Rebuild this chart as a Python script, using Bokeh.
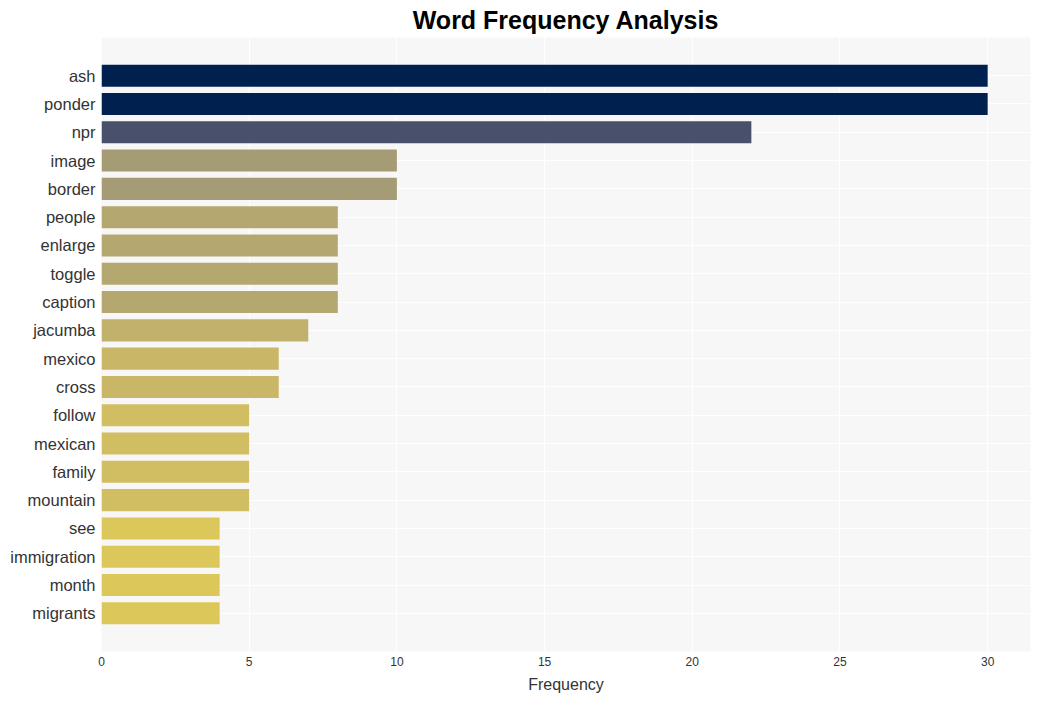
from bokeh.plotting import figure
from bokeh.models import FactorRange, Range1d, SingleIntervalTicker, ColumnDataSource
from bokeh.embed import file_html
from bokeh.resources import INLINE

words = ["ash", "ponder", "npr", "image", "border", "people", "enlarge", "toggle",
         "caption", "jacumba", "mexico", "cross", "follow", "mexican", "family",
         "mountain", "see", "immigration", "month", "migrants"]
counts = [30, 30, 22, 10, 10, 8, 8, 8, 8, 7, 6, 6, 5, 5, 5, 5, 4, 4, 4, 4]
colors = ["#00214f", "#00214f", "#49506b", "#a59b74", "#a59b74", "#b4a870", "#b4a870",
          "#b4a870", "#b4a870", "#c2b16c", "#c9b767", "#c9b767", "#d2be62", "#d2be62",
          "#d2be62", "#d2be62", "#dcc85a", "#dcc85a", "#dcc85a", "#dcc85a"]

source = ColumnDataSource(dict(word=words, count=counts, color=colors))

p = figure(
    width=1033, height=695,
    y_range=FactorRange(factors=list(reversed(words)), range_padding=0.85,
                        range_padding_units="absolute"),
    x_range=Range1d(0, 31.45),
    output_backend="svg", toolbar_location=None,
    title="Word Frequency Analysis",
    min_border_left=101, min_border_right=3, min_border_top=30, min_border_bottom=43,
)

p.hbar(y="word", right="count", left=0, height=0.78, fill_color="color",
       line_color=None, source=source)

p.title.align = "center"
p.title.text_font = "Liberation Sans"
p.title.text_font_size = "25px"
p.title.text_font_style = "bold"
p.title.text_color = "#000000"
p.title.standoff = 7

p.background_fill_color = "#f7f7f7"
p.border_fill_color = "#ffffff"
p.outline_line_color = None

p.xgrid.grid_line_color = "#ffffff"
p.xgrid.grid_line_width = 1
p.ygrid.grid_line_color = "#ffffff"
p.ygrid.grid_line_width = 1

p.xaxis.ticker = SingleIntervalTicker(interval=5)
p.xaxis.axis_label = "Frequency"
p.xaxis.axis_label_text_font = "Liberation Sans"
p.xaxis.axis_label_text_font_size = "16px"
p.xaxis.axis_label_text_font_style = "normal"
p.xaxis.axis_label_text_color = "#333333"
p.xaxis.axis_label_standoff = 7
p.xaxis.major_label_text_font = "Liberation Sans"
p.xaxis.major_label_text_font_size = "12px"
p.xaxis.major_label_text_color = "#333333"
p.xaxis.major_label_standoff = 5

p.yaxis.major_label_text_font = "Liberation Sans"
p.yaxis.major_label_text_font_size = "16.5px"
p.yaxis.major_label_text_color = "#333333"
p.yaxis.major_label_standoff = 6

for ax in (p.xaxis[0], p.yaxis[0]):
    ax.axis_line_color = None
    ax.major_tick_line_color = None
    ax.minor_tick_line_color = None
    ax.major_tick_out = 0
    ax.major_tick_in = 0
    ax.minor_tick_out = 0
    ax.minor_tick_in = 0

open("out.html", "w").write(file_html(p, INLINE))
